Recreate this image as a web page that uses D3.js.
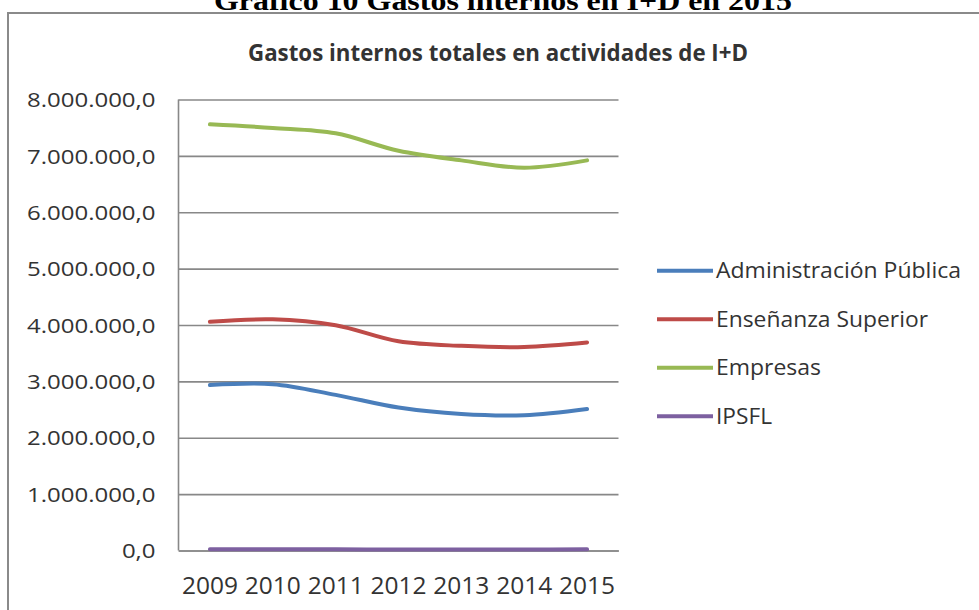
<!DOCTYPE html>
<html>
<head>
<meta charset="utf-8">
<script src="https://cdn.jsdelivr.net/npm/d3@7"></script>
<style>
  html, body { margin: 0; padding: 0; background: #fff; }
  svg { display: block; }
</style>
</head>
<body>
<svg id="chart" width="979" height="610"></svg>
<script>
// Gastos internos totales en I+D por sector (miles de euros)
const years = ["2009", "2010", "2011", "2012", "2013", "2014", "2015"];
const administracion = [2934000, 2950000, 2760000, 2535000, 2420000, 2400000, 2510000];
const ensenanza = [4057000, 4100000, 3995000, 3710000, 3630000, 3610000, 3690000];
const empresas = [7560000, 7495000, 7400000, 7090000, 6920000, 6790000, 6920000];
const ipsfl = [23000, 22000, 20000, 18000, 17000, 17000, 20000];

const seriesNames = ["Administración Pública", "Enseñanza Superior", "Empresas", "IPSFL"];
const seriesColors = ["#4a7ebb", "#be4b48", "#98b954", "#7d60a0"];
const yTickValues = [0, 1000000, 2000000, 3000000, 4000000, 5000000, 6000000, 7000000, 8000000];
const yTickLabels = ["0,0", "1.000.000,0", "2.000.000,0", "3.000.000,0", "4.000.000,0",
                     "5.000.000,0", "6.000.000,0", "7.000.000,0", "8.000.000,0"];

const series = [administracion, ensenanza, empresas, ipsfl].map((vals, i) => ({
  name: seriesNames[i], color: seriesColors[i],
  points: vals.map((v, j) => ({ year: years[j], value: v }))
}));

const svg = d3.select("#chart");
const font = "'Open Sans', 'Noto Sans', sans-serif";

// stretch/condense a text node to a given pixel width
function fit(sel, width) {
  sel.attr("textLength", width).attr("lengthAdjust", "spacingAndGlyphs");
}
function scaleWidth(sel, k) {
  sel.each(function () {
    const w = this.getComputedTextLength();
    d3.select(this).attr("textLength", w * k).attr("lengthAdjust", "spacingAndGlyphs");
  });
}

// document caption above the chart frame
svg.append("text")
  .attr("x", 503).attr("y", 10)
  .attr("text-anchor", "middle")
  .attr("font-family", "'Liberation Serif', 'Times New Roman', serif")
  .attr("font-weight", "bold").attr("font-size", 27)
  .attr("fill", "#000")
  .text("Gráfico 10 Gastos internos en I+D en 2015")
  .call(fit, 578);

// chart frame
svg.append("rect")
  .attr("x", 8).attr("y", 13).attr("width", 1000).attr("height", 640)
  .attr("fill", "#fff").attr("stroke", "#8a8a8a").attr("stroke-width", 2);

// chart title
svg.append("text")
  .attr("x", 498).attr("y", 61)
  .attr("text-anchor", "middle")
  .attr("font-family", font).attr("font-weight", "bold").attr("font-size", 23)
  .attr("fill", "#333")
  .text("Gastos internos totales en actividades de I+D")
  .call(fit, 500);

// scales
const plot = { left: 178.5, right: 618.5, top: 99.5, bottom: 550.5 };
const x = d3.scaleBand().domain(years).range([plot.left, plot.right]).paddingInner(0).paddingOuter(0);
const xc = d => x(d) + x.bandwidth() / 2;
const y = d3.scaleLinear().domain([0, 8000000]).range([plot.bottom, plot.top]);

// horizontal gridlines + y labels
const yAxis = svg.append("g")
  .attr("transform", `translate(${plot.left},0)`)
  .call(d3.axisLeft(y)
    .tickValues(yTickValues)
    .tickSize(-(plot.right - plot.left))
    .tickPadding(23)
    .tickFormat((d, i) => yTickLabels[i]));
yAxis.select(".domain").remove();
yAxis.selectAll(".tick line").attr("stroke", "#888").attr("stroke-width", 1.6);
yAxis.selectAll(".tick text")
  .attr("font-family", font).attr("font-size", 20.5).attr("fill", "#333")
  .attr("dy", "0.35em")
  .call(scaleWidth, 1.17);

// left axis line
svg.append("line")
  .attr("x1", plot.left).attr("x2", plot.left)
  .attr("y1", plot.top).attr("y2", plot.bottom)
  .attr("stroke", "#888").attr("stroke-width", 1.6);

// x axis labels
const xAxis = svg.append("g")
  .attr("transform", `translate(0,${plot.bottom})`)
  .call(d3.axisBottom(x).tickSize(0).tickPadding(27));
xAxis.select(".domain").attr("stroke", "#888").attr("stroke-width", 1.6);
xAxis.selectAll(".tick text")
  .attr("font-family", font).attr("font-size", 23.5).attr("fill", "#333")
  .call(fit, 56);

// smoothed series lines
const line = d3.line()
  .x(d => xc(d.year))
  .y(d => y(d.value))
  .curve(d3.curveCatmullRom.alpha(0.5));

svg.append("g").selectAll("path")
  .data(series)
  .join("path")
  .attr("d", d => line(d.points))
  .attr("fill", "none")
  .attr("stroke", d => d.color)
  .attr("stroke-width", 4)
  .attr("stroke-linecap", "round")
  .attr("stroke-linejoin", "round");

// legend
const legendWidths = [245, 212, 105, 56];
const legend = svg.append("g");
const rows = legend.selectAll("g")
  .data(series)
  .join("g")
  .attr("transform", (d, i) => `translate(657,${270.7 + i * 48.5})`);
rows.append("line")
  .attr("x1", 0).attr("x2", 56)
  .attr("stroke", d => d.color).attr("stroke-width", 4);
rows.append("text")
  .attr("x", 59).attr("dy", "0.35em")
  .attr("font-family", font).attr("font-size", 22).attr("fill", "#333")
  .text(d => d.name)
  .each(function (d, i) { d3.select(this).call(fit, legendWidths[i]); });
</script>
</body>
</html>
